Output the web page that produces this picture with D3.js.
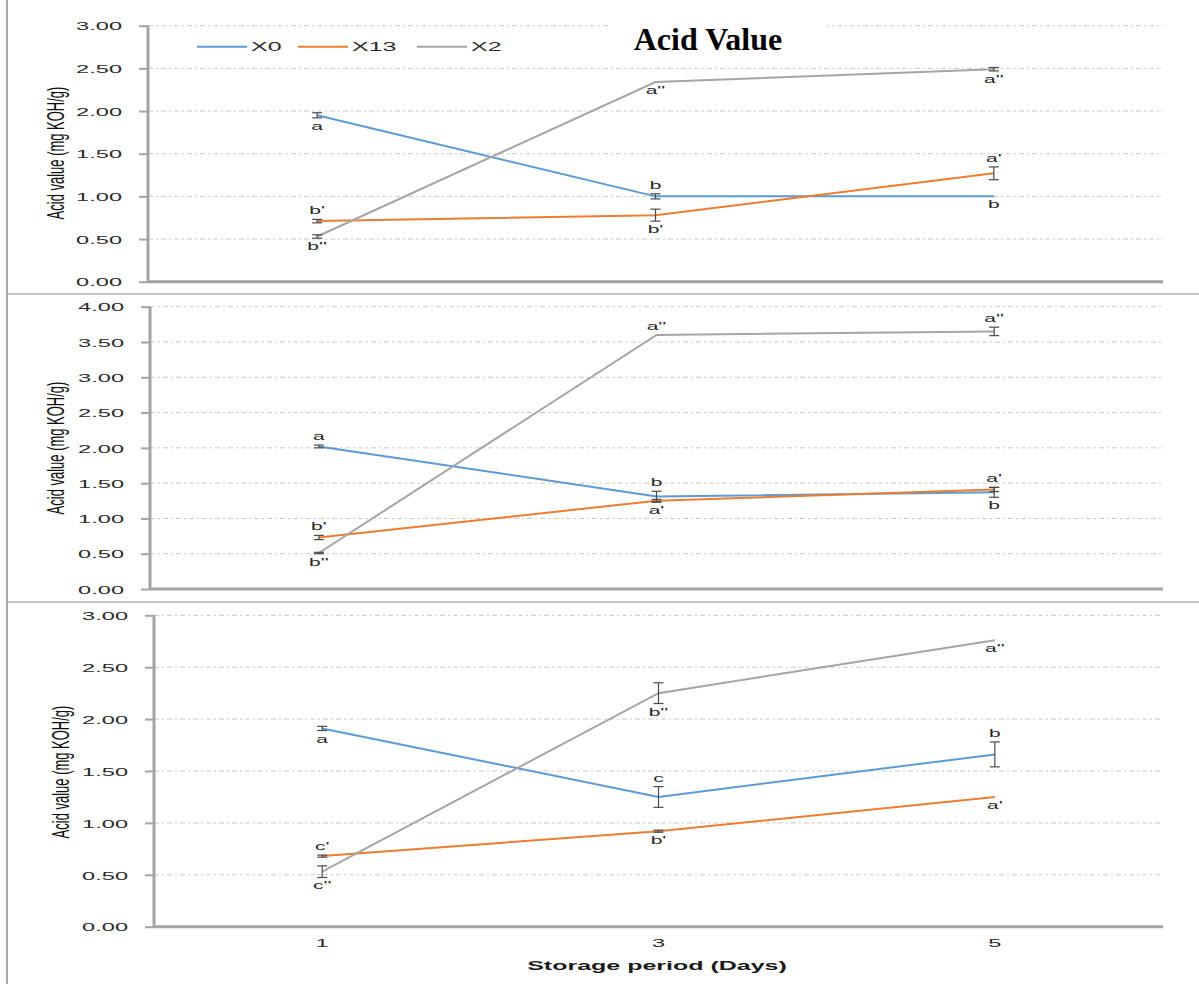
<!DOCTYPE html>
<html>
<head>
<meta charset="utf-8">
<script src="https://cdn.jsdelivr.net/npm/d3@7"></script>
<style>
  body { margin: 0; background: #fff; }
  svg { display: block; }
</style>
</head>
<body>
<svg id="chart" width="1199" height="984"></svg>
<script>
// ---- data ----
const days = ["1", "3", "5"];
const seriesNames = ["X0", "X13", "X2"];

// Panel A (top): rows are X0, X13, X2; columns are days 1, 3, 5
const panelAValues  = [[1.95, 1.00, 1.00], [0.71, 0.78, 1.27], [0.53, 2.34, 2.49]];
const panelAErrors  = [[0.03, 0.03, 0], [0.02, 0.07, 0.075], [0.02, 0, 0.02]];
const panelALetters = [["a", "b", "b"], ["b'", "b'", "a'"], ["b''", "a''", "a''"]];
const panelATicks   = [0, 0.5, 1.0, 1.5, 2.0, 2.5, 3.0];

// Panel B (middle)
const panelBValues  = [[2.02, 1.31, 1.37], [0.73, 1.25, 1.41], [0.51, 3.60, 3.65]];
const panelBErrors  = [[0.02, 0.075, 0.07], [0.03, 0.02, 0.03], [0.01, 0, 0.06]];
const panelBLetters = [["a", "b", "b"], ["b'", "a'", "a'"], ["b''", "a''", "a''"]];
const panelBTicks   = [0, 0.5, 1.0, 1.5, 2.0, 2.5, 3.0, 3.5, 4.0];

// Panel C (bottom)
const panelCValues  = [[1.91, 1.25, 1.66], [0.68, 0.92, 1.25], [0.53, 2.25, 2.76]];
const panelCErrors  = [[0.02, 0.10, 0.12], [0.01, 0.01, 0], [0.056, 0.10, 0]];
const panelCLetters = [["a", "c", "b"], ["c'", "b'", "a'"], ["c''", "b''", "a''"]];
const panelCTicks   = [0, 0.5, 1.0, 1.5, 2.0, 2.5, 3.0];

const titleText = "Acid Value";
const yAxisTitle = "Acid value (mg KOH/g)";
const xAxisTitle = "Storage period  (Days)";

// ---- styling ----
const colors = ["#5B9BD5", "#ED7D31", "#A5A5A5"];
const axisColor = "#a3a3a3";
const gridColor = "#c8c8c8";
const sansFont = "'Liberation Sans', Arial, sans-serif";
const plotRight = 1163;

const svg = d3.select("#chart");

// Text drawn with a wide horizontal stretch, anchored at (x, y)
function wideText(parent, x, y, str, opts) {
  const o = Object.assign({ size: 11.5, sx: 2.0, anchor: "middle", weight: "normal", rotate: 0, fill: "#262626", dy: "0" }, opts || {});
  return parent.append("text")
    .attr("transform", `translate(${x},${y}) scale(${o.sx},1)` + (o.rotate ? ` rotate(${o.rotate})` : ""))
    .attr("text-anchor", o.anchor)
    .attr("dy", o.dy)
    .attr("font-family", sansFont)
    .attr("font-size", o.size)
    .attr("font-weight", o.weight)
    .attr("fill", o.fill)
    .text(str);
}

// Outer frame lines separating the three panels
svg.append("line").attr("x1", 7).attr("x2", 7).attr("y1", 0).attr("y2", 984)
  .attr("stroke", "#a8a8a8").attr("stroke-width", 2);
[294, 602].forEach(yy => {
  svg.append("line").attr("x1", 7).attr("x2", 1199).attr("y1", yy).attr("y2", yy)
    .attr("stroke", "#b4b4b4").attr("stroke-width", 1.6);
});

const panels = [
  { values: panelAValues, errors: panelAErrors, letters: panelALetters, ticks: panelATicks,
    left: 148, top: 25.7, bottom: 281.7, yLabelX: 55, yLabelY: 153,
    sides: [["below", "above", "below"], ["above", "below", "above"], ["below", "below", "below"]] },
  { values: panelBValues, errors: panelBErrors, letters: panelBLetters, ticks: panelBTicks,
    left: 150, top: 306.7, bottom: 589, yLabelX: 55, yLabelY: 448,
    sides: [["above", "above", "below"], ["above", "below", "above"], ["below", "above", "above"]] },
  { values: panelCValues, errors: panelCErrors, letters: panelCLetters, ticks: panelCTicks,
    left: 154, top: 615.3, bottom: 926.7, yLabelX: 60, yLabelY: 772, xAxis: true,
    sides: [["below", "above", "above"], ["above", "below", "below"], ["below", "below", "below"]] }
];

panels.forEach((p, pi) => {
  const g = svg.append("g");
  const x = d3.scaleBand().domain(days).range([p.left, plotRight]).padding(0);
  const xc = d => x(d) + x.bandwidth() / 2;
  const y = d3.scaleLinear().domain([0, d3.max(p.ticks)]).range([p.bottom, p.top]);

  // dash-dot gridlines
  g.append("g").selectAll("line").data(p.ticks.filter(t => t > 0)).join("line")
    .attr("x1", p.left).attr("x2", plotRight)
    .attr("y1", d => y(d)).attr("y2", d => y(d))
    .attr("stroke", gridColor).attr("stroke-width", 1)
    .attr("stroke-dasharray", "5,3,2,3");

  // y axis: ticks from d3, labels restyled
  const yAxis = g.append("g").attr("transform", `translate(${p.left},0)`)
    .call(d3.axisLeft(y).tickValues(p.ticks).tickFormat(d3.format(".2f")).tickSizeInner(9).tickSizeOuter(0));
  yAxis.select(".domain").remove();
  yAxis.selectAll(".tick line").attr("stroke", axisColor).attr("stroke-width", 2);
  yAxis.selectAll(".tick text").remove();
  yAxis.selectAll(".tick").each(function (d) {
    wideText(d3.select(this), -26, 0, d3.format(".2f")(d), { anchor: "end", dy: "0.36em", size: 11.8, sx: 2.0, fill: "#2a2a2a" });
  });

  // axis lines
  g.append("line").attr("x1", p.left).attr("x2", p.left).attr("y1", p.top).attr("y2", p.bottom)
    .attr("stroke", axisColor).attr("stroke-width", 3);
  g.append("line").attr("x1", p.left).attr("x2", plotRight).attr("y1", p.bottom).attr("y2", p.bottom)
    .attr("stroke", axisColor).attr("stroke-width", 3);

  // y axis title
  wideText(g, p.yLabelX, p.yLabelY, yAxisTitle, { rotate: -90, size: 13, sx: 1.9, dy: "0.35em", fill: "#111" });

  // series lines
  const line = d3.line().x((d, i) => xc(days[i])).y(d => y(d));
  p.values.forEach((vals, si) => {
    g.append("path").datum(vals).attr("d", line)
      .attr("fill", "none").attr("stroke", colors[si]).attr("stroke-width", 2);
  });

  // error bars
  p.values.forEach((vals, si) => {
    vals.forEach((v, di) => {
      const e = p.errors[si][di];
      if (!e) return;
      const cx = xc(days[di]);
      const eg = g.append("g").attr("stroke", "#4a4a4a").attr("stroke-width", 1.2);
      eg.append("line").attr("x1", cx).attr("x2", cx).attr("y1", y(v + e)).attr("y2", y(v - e));
      [v + e, v - e].forEach(t => {
        eg.append("line").attr("x1", cx - 5).attr("x2", cx + 5).attr("y1", y(t)).attr("y2", y(t));
      });
    });
  });

  // significance letters
  p.values.forEach((vals, si) => {
    vals.forEach((v, di) => {
      const e = p.errors[si][di];
      const cx = xc(days[di]);
      const above = p.sides[si][di] === "above";
      const yy = above ? y(v + e) - 5 : y(v - e) + 12;
      wideText(g, cx, yy, p.letters[si][di], { size: 10.5, sx: 2.0, fill: "#262626" });
    });
  });

  if (p.xAxis) {
    const xAxis = g.append("g").attr("transform", `translate(0,${p.bottom})`)
      .call(d3.axisBottom(x).tickSize(0));
    xAxis.select(".domain").remove();
    xAxis.selectAll(".tick text").remove();
    xAxis.selectAll(".tick").each(function (d) {
      wideText(d3.select(this), 0, 20, d, { size: 11.8, sx: 2.0, fill: "#2a2a2a" });
    });
    wideText(g, 657, 970, xAxisTitle, { size: 12.5, sx: 2.0, weight: "bold", fill: "#1a1a1a" });
  }

  if (pi === 0) {
    // title with a white box over the top gridline
    g.append("rect").attr("x", 608).attr("y", 12).attr("width", 219).attr("height", 50).attr("fill", "#fff");
    g.append("text").attr("x", 708).attr("y", 50).attr("text-anchor", "middle")
      .attr("font-family", "'Liberation Serif', 'Times New Roman', serif")
      .attr("font-weight", "bold").attr("font-size", 32).attr("fill", "#000")
      .text(titleText);

    // legend
    const legX = [197, 298, 417];
    seriesNames.forEach((name, si) => {
      g.append("line").attr("x1", legX[si]).attr("x2", legX[si] + 50)
        .attr("y1", 46.7).attr("y2", 46.7)
        .attr("stroke", colors[si]).attr("stroke-width", 2);
      wideText(g, legX[si] + 54, 46.7, name, { anchor: "start", dy: "0.36em", size: 12.5, sx: 2.0, fill: "#2a2a2a" });
    });
  }
});
</script>
</body>
</html>
